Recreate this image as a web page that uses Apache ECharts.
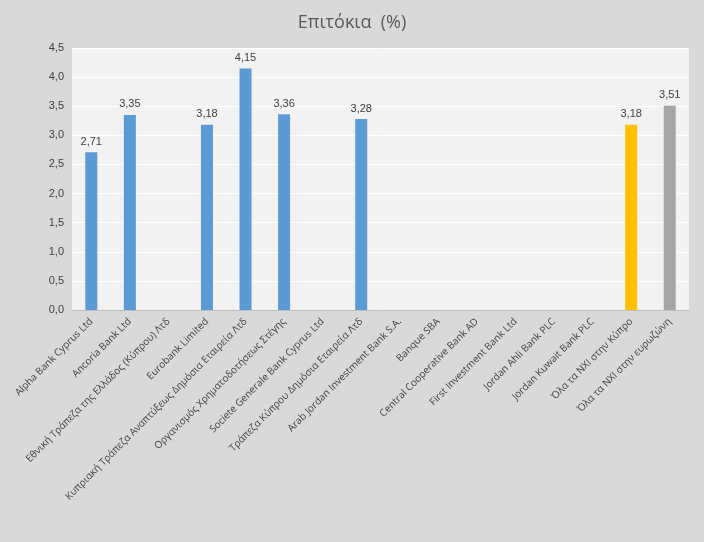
<!DOCTYPE html>
<html>
<head>
<meta charset="utf-8">
<script src="https://cdn.jsdelivr.net/npm/echarts@6/dist/echarts.min.js"></script>
</head>
<body style="margin:0;background:#d9d9d9">
<div id="chartmain" style="width:704px;height:542px;"></div>
<script type="text/javascript">
    var banks = ['Alpha Bank Cyprus Ltd', 'Ancoria Bank Ltd', 'Εθνική Τράπεζα της Ελλάδος (Κύπρου) Λτδ',
        'Eurobank Limited', 'Κυπριακή Τράπεζα Αναπτύξεως Δημόσια Εταιρεία Λτδ',
        'Οργανισμός Χρηματοδοτήσεως Στέγης', 'Societe Generale Bank Cyprus Ltd',
        'Τράπεζα Κύπρου Δημόσια Εταιρεία Λτδ', 'Arab Jordan Investment Bank S.A.', 'Banque SBA',
        'Central Cooperative Bank AD', 'First Investment Bank Ltd', 'Jordan Ahli Bank PLC',
        'Jordan Kuwait Bank PLC', 'Όλα τα ΝΧΙ στην Κύπρο', 'Όλα τα ΝΧΙ στην ευρωζώνη'];
    var rates = [2.71, 3.35, null, 3.18, 4.15, 3.36, null, 3.28, null, null, null, null, null, null, 3.18, 3.51];
    var colors = [];
    for (var i = 0; i < banks.length; i++) colors.push('#5b9bd5');
    colors[14] = '#ffc000';
    colors[15] = '#a5a5a5';

    var data = rates.map(function (v, i) {
        return { value: v, itemStyle: { color: colors[i] } };
    });
    var comma = function (v) { return String(v).replace('.', ','); };

    var myChart = echarts.init(document.getElementById('chartmain'));
    myChart.setOption({
        backgroundColor: '#d9d9d9',
        animation: false,
        title: {
            text: 'Επιτόκια  (%)', left: 'center', top: 9,
            textStyle: { fontFamily: 'Open Sans', fontWeight: 'normal', fontSize: 18, color: '#595959' }
        },
        grid: { left: 72, right: 15, top: 48, bottom: 232, backgroundColor: '#f2f2f2', show: true, borderWidth: 0 },
        xAxis: {
            type: 'category', data: banks,
            axisLine: { lineStyle: { color: '#bfbfbf' } },
            axisTick: { show: false },
            axisLabel: { rotate: 45, interval: 0, fontSize: 10, color: '#404040', fontFamily: 'Open Sans', margin: 10 }
        },
        yAxis: {
            type: 'value', min: 0, max: 4.5, interval: 0.5,
            splitLine: { lineStyle: { color: '#ffffff' } },
            axisLabel: {
                fontSize: 11, color: '#404040',
                formatter: function (v) { return v.toFixed(1).replace('.', ','); }
            }
        },
        series: [{
            type: 'bar', data: data, barWidth: 12,
            label: {
                show: true, position: 'top', fontSize: 11, color: '#404040',
                formatter: function (p) { return comma(p.value); }
            }
        }]
    });
</script>
</body>
</html>
